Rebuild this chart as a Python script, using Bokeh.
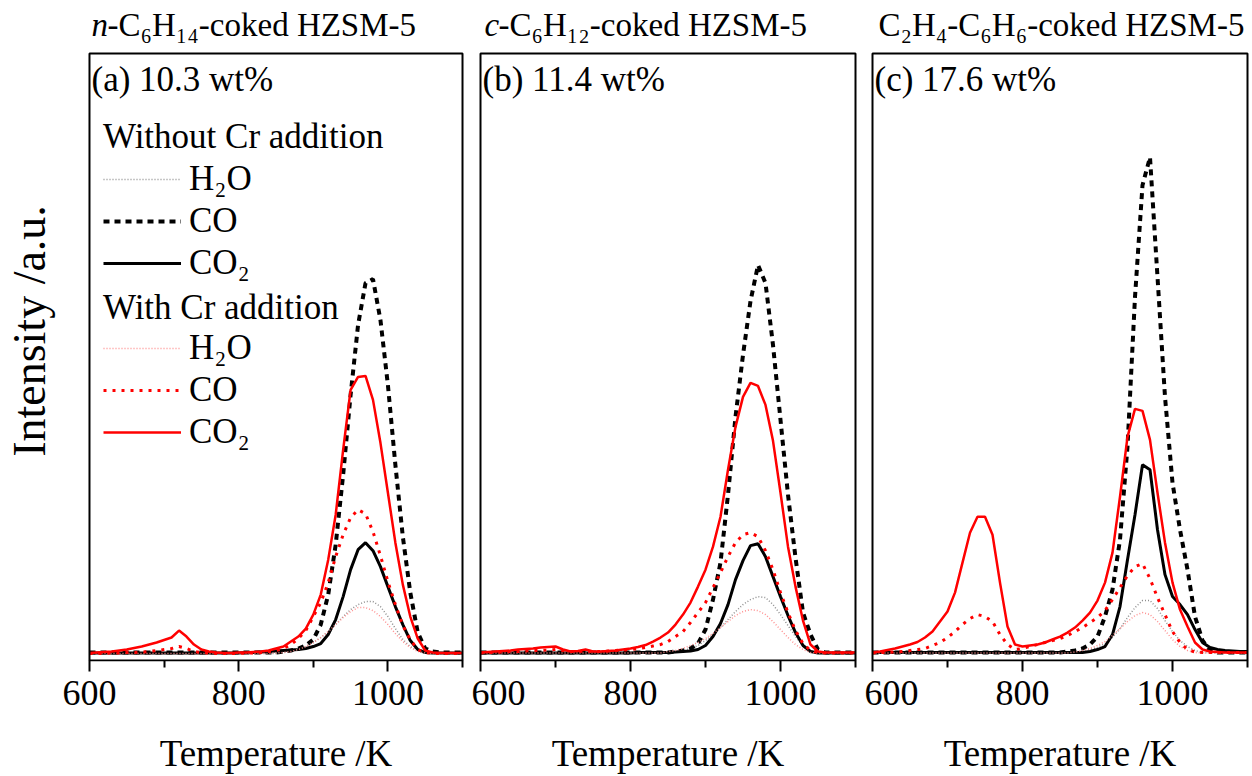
from bokeh.plotting import figure
from bokeh.models import Range1d, FixedTicker, Label, Legend, LegendItem, BoxAnnotation
from bokeh.layouts import row
from bokeh.embed import file_html
from bokeh.resources import INLINE

# ---------------- data ----------------
temps = list(range(600, 1101, 10))  # K

# (a) n-C6H14-coked HZSM-5
a_h2o_no = [1, 1, 1, 1, 1, 1, 1, 1, 1, 1,
            1, 1, 1, 1, 1, 1, 1, 1, 1, 1,
            1, 1, 1, 1, 1, 1, 2, 3, 5, 8,
            12, 17, 23, 30, 38, 45, 50, 53, 53, 48,
            38, 26, 15, 8, 4, 2, 1, 1, 1, 1, 1]
a_co_no = [2, 2, 2, 2, 2, 2, 2, 2, 2, 2,
           2, 2, 2, 2, 2, 2, 2, 2, 2, 2,
           2, 2, 2, 2, 2, 2, 3, 4, 6, 9,
           15, 30, 60, 110, 180, 260, 330, 372, 376, 335,
           270, 190, 118, 62, 22, 6, 3, 2, 2, 2, 2]
a_co2_no = [1.5, 1.5, 1.5, 1.5, 1.5, 1.5, 1.5, 1.5, 1.5, 1.5,
            1.5, 1.5, 1.5, 1.5, 1.5, 1.5, 1.5, 1.5, 1.5, 1.5,
            1.5, 2, 2, 2.5, 3, 3.5, 4, 4.5, 5, 6,
            8, 11, 20, 35, 58, 85, 105, 112, 104, 88,
            68, 48, 30, 14, 5, 2, 1.5, 1.5, 1.5, 1.5, 1.5]
a_h2o_cr = [1, 1, 1, 1, 1, 1, 1, 1, 1, 1,
            1, 1, 1, 1, 1, 1, 1, 1, 1, 1,
            1, 1, 1, 1, 1, 1.5, 2, 3, 5, 8,
            12, 17, 23, 30, 37, 43, 47, 47, 44, 38,
            30, 21, 13, 7, 3, 1.5, 1, 1, 1, 1, 1]
a_co_cr = [1, 1, 1, 1.5, 1.5, 2, 2, 2.5, 3, 4,
           5, 6, 8, 6, 3, 2, 1.5, 1, 1, 1,
           1, 1.5, 1.5, 2, 3, 4, 6, 10, 16, 24,
           38, 52, 72, 98, 120, 137, 145, 141, 123, 99,
           73, 50, 29, 15, 5, 2, 1, 1, 1, 1, 1]
a_co2_cr = [1.5, 2, 2.5, 3, 4, 5, 6.5, 8, 10, 12,
            14.5, 17, 24, 18, 10, 5, 3, 2, 1.5, 1.5,
            2, 2, 2.5, 3, 4, 6, 8, 13, 18, 26,
            40, 60, 95, 140, 205, 265, 278, 279, 255, 212,
            162, 112, 70, 38, 16, 4, 2, 1.5, 1.5, 1.5, 1.5]

# (b) c-C6H12-coked HZSM-5
b_h2o_no = [1.5, 1.5, 1.5, 1.5, 1.5, 1.5, 1.5, 1.5, 1.5, 1.5,
            1.5, 1.5, 1.5, 1.5, 1.5, 1.5, 1.5, 1.5, 1.5, 1.5,
            1.5, 1.5, 1.5, 1.5, 1.5, 1.5, 3, 4, 6, 9,
            14, 20, 27, 35, 43, 50, 55, 58, 57, 50,
            40, 29, 18, 9, 4, 2, 1.5, 1.5, 1.5, 1.5, 1.5]
b_co_no = [2, 2, 2, 2, 2, 2, 2, 2, 2, 2,
           2, 2, 2, 2, 2, 2, 2, 2, 2, 2,
           2, 2, 2, 2, 2, 2, 3, 4, 6, 11,
           25, 55, 92, 160, 238, 300, 354, 390, 372, 310,
           235, 160, 97, 42, 20, 5, 2, 2, 2, 2, 2]
b_co2_no = [1.5, 1.5, 1.5, 1.5, 1.5, 1.5, 1.5, 1.5, 1.5, 1.5,
            1.5, 1.5, 1.5, 1.5, 1.5, 1.5, 1.5, 1.5, 1.5, 1.5,
            1.5, 2, 2, 2, 2, 2, 2.5, 3, 3.5, 5,
            9, 18, 31, 50, 75, 94, 109, 111, 98, 78,
            58, 39, 22, 9, 3, 1.5, 1.5, 1.5, 1.5, 1.5, 1.5]
b_h2o_cr = [1.5, 1.5, 1.5, 1.5, 1.5, 1.5, 1.5, 1.5, 1.5, 1.5,
            1.5, 1.5, 1.5, 1.5, 1.5, 1.5, 1.5, 1.5, 1.5, 1.5,
            1.5, 1.5, 1.5, 1.5, 1.5, 3, 4, 6, 9, 12,
            16, 21, 27, 33, 39, 43, 45, 44, 40, 33,
            25, 17, 10, 5, 2, 1.5, 1.5, 1.5, 1.5, 1.5, 1.5]
b_co_cr = [1.5, 2, 2, 2.5, 3, 3, 3.5, 4, 4, 4.5,
           5, 4, 3, 3, 3.5, 3, 3, 3.5, 4, 4.5,
           5, 6, 7, 8.5, 10, 13, 18, 23, 32, 42,
           52, 67, 82, 98, 112, 120, 122, 118, 104, 85,
           62, 42, 24, 11, 4, 2, 1.5, 1.5, 1.5, 1.5, 1.5]
b_co2_cr = [2, 2.5, 3, 3.5, 4, 5, 5.5, 6, 7, 7.5,
            8, 5, 3, 3.5, 5, 3, 3, 3.5, 4, 5,
            6, 7.5, 9.5, 13, 17, 22, 30, 40, 52, 68,
            85, 108, 138, 185, 228, 258, 272, 269, 250, 214,
            162, 108, 68, 34, 10, 3, 2, 2, 2, 2, 2]

# (c) C2H4-C6H6-coked HZSM-5
c_h2o_no = [1.5, 1.5, 1.5, 1.5, 1.5, 1.5, 1.5, 1.5, 1.5, 1.5,
            1.5, 1.5, 1.5, 1.5, 1.5, 1.5, 1.5, 1.5, 1.5, 1.5,
            1.5, 1.5, 1.5, 1.5, 1.5, 1.5, 1.5, 1.5, 3, 5,
            7, 11, 17, 26, 37, 47, 54, 54, 46, 34,
            23, 14, 8, 4, 2, 1.5, 1.5, 1.5, 1.5, 1.5, 1.5]
c_co_no = [2, 2, 2, 2, 2, 2, 2, 2, 2, 2,
           2, 2, 2, 2, 2, 2, 2, 2, 2, 2,
           2, 2, 2, 2, 2, 2, 3, 4, 6, 10,
           18, 38, 65, 115, 208, 358, 470, 498, 378, 258,
           172, 125, 85, 38, 14, 4, 2, 2, 2, 2, 2]
c_co2_no = [2, 2, 2, 2, 2, 2, 2, 2, 2, 2,
            2, 2, 2, 2, 2, 2, 2, 2, 2, 2,
            2, 2, 2, 2, 2, 2, 2, 2, 2, 3,
            5, 8, 20, 48, 95, 140, 190, 185, 125, 80,
            58, 50, 40, 25, 12, 7, 5, 4, 3.5, 3, 3]
c_h2o_cr = [1.5, 1.5, 1.5, 1.5, 1.5, 1.5, 1.5, 1.5, 1.5, 1.5,
            1.5, 1.5, 1.5, 1.5, 1.5, 1.5, 1.5, 1.5, 1.5, 1.5,
            1.5, 1.5, 1.5, 1.5, 1.5, 1.5, 1.5, 2.5, 4, 6,
            9, 13, 19, 26, 33, 39, 42, 40, 33, 24,
            15, 8, 4, 2, 1.5, 1.5, 1.5, 1.5, 1.5, 1.5, 1.5]
c_co_cr = [1.5, 2, 2, 2.5, 3, 4, 5, 6, 9, 12,
           17, 23, 30, 36, 40, 38, 33, 20, 10, 5,
           6, 8, 10, 12, 14, 16, 19, 23, 27, 32,
           37, 44, 55, 67, 79, 88, 91, 76, 57, 40,
           23, 12, 5, 2.5, 2, 2, 2, 2, 2, 2, 2]
c_co2_cr = [2, 3, 4.5, 6, 8, 10, 12.5, 17, 23, 33,
            43, 62, 92, 122, 138, 138, 120, 72, 28, 10,
            8, 9, 10, 12, 15, 18, 22, 27, 34, 42,
            54, 72, 102, 158, 218, 246, 244, 215, 162, 112,
            72, 45, 28, 12, 5, 3, 2.5, 2, 2, 2, 2]

x_ticks = [600, 800, 1000]
x_minor = [700, 900, 1100]

titles = [
    ("n", "-C\u2086H\u2081\u2084-coked HZSM-5"),
    ("c", "-C\u2086H\u2081\u2082-coked HZSM-5"),
    ("", "C\u2082H\u2084-C\u2086H\u2086-coked HZSM-5"),
]
panel_labels = ["(a) 10.3 wt%", "(b) 11.4 wt%", "(c) 17.6 wt%"]
series_names = ["H\u2082O", "CO", "CO\u2082"]
group_names = ["Without Cr addition", "With Cr addition"]

# ---------------- layout constants ----------------
FONT = "Liberation Serif"
X0, X1 = 600, 1100
Y_LO, Y_HI = -6, 602          # visible panel box (a.u.)
PXK = 0.75                    # px per K
PAD = 2                       # px of frame beyond the panel box (left/right)
BOX_W = 375
FRAME_W = BOX_W + 2 * PAD
FRAME_H = 662                 # frame reaches the top of the canvas (titles inside)
HEIGHT = 776
BOTTOM = HEIGHT - FRAME_H
Y_MIN = -7
Y_MAX = 655

styles_no = [
    dict(line_color="#8f8f8f", line_width=1.5, line_dash="1 2"),
    dict(line_color="black", line_width=4, line_dash="6 5"),
    dict(line_color="black", line_width=3),
]
styles_cr = [
    dict(line_color="#ff9090", line_width=1.5, line_dash="1 2"),
    dict(line_color="#ff0000", line_width=3, line_dash="3 6"),
    dict(line_color="#ff0000", line_width=2.5),
]


def make_panel(i, no_series, cr_series, bl, br, ylabel=None):
    p = figure(width=bl + FRAME_W + br, height=HEIGHT,
               x_range=Range1d(X0 - PAD / PXK, X1 + PAD / PXK),
               y_range=Range1d(Y_MIN, Y_MAX),
               output_backend="svg", toolbar_location=None,
               min_border_left=bl, min_border_right=br,
               min_border_top=0, min_border_bottom=BOTTOM,
               y_axis_location="left" if ylabel else None)
    p.grid.visible = False
    p.outline_line_color = None
    p.background_fill_color = "white"
    p.border_fill_color = "white"

    ax = p.xaxis[0]
    ax.ticker = FixedTicker(ticks=x_ticks, minor_ticks=x_minor)
    ax.axis_line_color = None
    ax.major_tick_line_width = 2
    ax.minor_tick_line_width = 2
    ax.major_tick_in = 1
    ax.major_tick_out = 10
    ax.minor_tick_in = 1
    ax.minor_tick_out = 6
    ax.major_label_text_font = FONT
    ax.major_label_text_font_size = "36px"
    ax.major_label_text_color = "black"
    ax.major_label_standoff = 9
    ax.axis_label = "Temperature /K"
    ax.axis_label_text_font = FONT
    ax.axis_label_text_font_size = "37px"
    ax.axis_label_text_font_style = "normal"
    ax.axis_label_text_color = "black"
    ax.axis_label_standoff = 25

    if ylabel:
        yax = p.yaxis[0]
        yax.ticker = FixedTicker(ticks=[])
        yax.axis_line_color = None
        yax.major_tick_out = 0
        yax.major_tick_in = 0
        yax.minor_tick_out = 0
        yax.minor_tick_in = 0
        yax.major_label_text_font_size = "0px"
        yax.axis_label = ylabel
        yax.axis_label_text_font = FONT
        yax.axis_label_text_font_size = "46px"
        yax.axis_label_text_font_style = "normal"
        yax.axis_label_text_color = "black"
        yax.axis_label_standoff = 33

    # the visible panel box
    p.add_layout(BoxAnnotation(left=X0, right=X1, bottom=Y_LO, top=Y_HI,
                               fill_alpha=0, line_color="black", line_alpha=1,
                               line_width=2))

    rs_no = []
    rs_cr = []
    for ys, st in zip(no_series, styles_no):
        rs_no.append(p.line(temps, ys, **st))
    for ys, st in zip(cr_series, styles_cr):
        rs_cr.append(p.line(temps, ys, **st))

    # titles above the panel box (inside the frame)
    it, rest = titles[i]
    ty = FRAME_H - 25
    if it:
        p.add_layout(Label(x=PAD + 2 if i == 0 else PAD + 4, y=ty, x_units="screen", y_units="screen",
                           text=it, text_font=FONT, text_font_size="33px",
                           text_font_style="italic", text_baseline="alphabetic",
                           text_color="black"))
        rx = PAD + 18
    else:
        rx = PAD + 6
    p.add_layout(Label(x=rx, y=ty, x_units="screen", y_units="screen",
                       text=rest, text_font=FONT, text_font_size="33px",
                       text_baseline="alphabetic", text_color="black"))
    p.add_layout(Label(x=PAD + 2, y=FRAME_H - 80, x_units="screen", y_units="screen",
                       text=panel_labels[i], text_font=FONT, text_font_size="35px",
                       text_baseline="middle", text_color="black"))
    return p, rs_no, rs_cr


pa, a_no, a_cr = make_panel(0, [a_h2o_no, a_co_no, a_co2_no],
                            [a_h2o_cr, a_co_cr, a_co2_cr], 85, 7,
                            ylabel="Intensity /a.u.")
pb, _, _ = make_panel(1, [b_h2o_no, b_co_no, b_co2_no],
                      [b_h2o_cr, b_co_cr, b_co2_cr], 7, 7)
pc, _, _ = make_panel(2, [c_h2o_no, c_co_no, c_co2_no],
                      [c_h2o_cr, c_co_cr, c_co2_cr], 6, 2)


# legends in panel (a)
def make_legend(title, rends, loc, standoff):
    lg = Legend(items=[LegendItem(label=n, renderers=[r]) for n, r in zip(series_names, rends)],
                title=title, location=loc, orientation="vertical")
    lg.title_text_font = FONT
    lg.title_text_font_size = "35px"
    lg.title_text_font_style = "normal"
    lg.title_text_color = "black"
    lg.title_standoff = standoff
    lg.label_text_font = FONT
    lg.label_text_font_size = "35px"
    lg.label_text_color = "black"
    lg.glyph_width = 78
    lg.glyph_height = 30
    lg.label_height = 30
    lg.label_standoff = 8
    lg.spacing = 2
    lg.padding = 0
    lg.margin = 0
    lg.border_line_color = None
    lg.background_fill_alpha = 0
    return lg


pa.add_layout(make_legend(group_names[0], a_no, (16, 378), 2))
pa.add_layout(make_legend(group_names[1], a_cr, (16, 209), 0))

layout = row(pa, pb, pc)
open("out.html", "w").write(file_html(layout, INLINE))
